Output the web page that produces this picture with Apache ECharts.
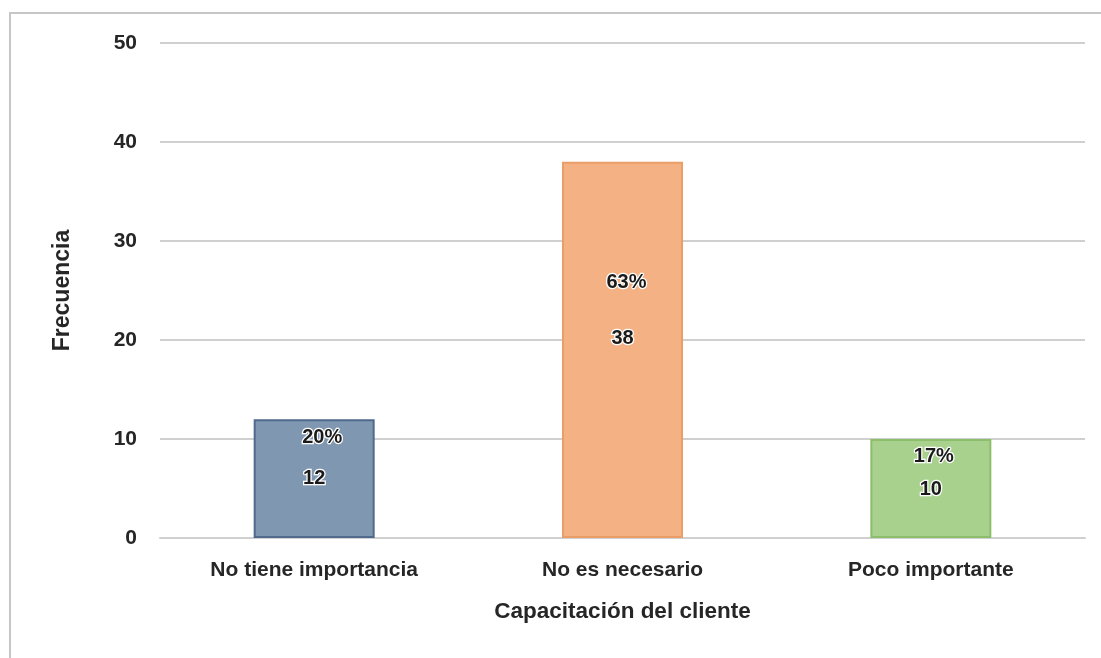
<!DOCTYPE html>
<html>
<head>
<meta charset="utf-8">
<script src="https://cdn.jsdelivr.net/npm/echarts@6/dist/echarts.min.js"></script>
<style>
  html, body { margin: 0; padding: 0; background: #ffffff; }
  #chart { width: 1101px; height: 658px; }
</style>
</head>
<body>
<div id="chart"></div>
<script>
// Capacitación del cliente: frequency of answers per category
const categories = ['No tiene importancia', 'No es necesario', 'Poco importante'];
const frecuencias = [12, 38, 10];
const yTicks = [0, 10, 20, 30, 40, 50];

const barColors = ['#8097b2', '#f4b183', '#a8d18d'];
const barBorders = ['#4f6a8d', '#eb9d68', '#8cbe6c'];
// offsets of the percentage labels measured from the top of each bar (px)
const pctOffsets = [[8, 3], [4, 106], [3, 2]];
// offsets of the count labels from each bar's centre (px)
const valOffsets = [[0, 0], [0, -11], [0, 1]];

const total = frecuencias.reduce((a, b) => a + b, 0);
const FONT = "'Liberation Sans', Arial, sans-serif";

const labelText = {
  color: '#1a1a1a',
  fontFamily: FONT,
  fontWeight: 'bold',
  fontSize: 20,
  textBorderColor: '#ffffff',
  textBorderWidth: 2.5
};

const chart = echarts.init(document.getElementById('chart'));
chart.setOption({
  animation: false,
  graphic: [{
    type: 'rect',
    shape: { x: 10, y: 13, width: 1200, height: 800 },
    style: { fill: 'none', stroke: '#c6c6c6', lineWidth: 2 },
    silent: true
  }],
  grid: { left: 160, right: 16, top: 43, bottom: 120 },
  xAxis: {
    type: 'category',
    data: categories,
    name: 'Capacitación del cliente',
    nameLocation: 'middle',
    nameGap: 62,
    nameTextStyle: { color: '#262626', fontFamily: FONT, fontWeight: 'bold', fontSize: 22.5 },
    axisLine: { show: true, lineStyle: { color: '#d0d0d0', width: 2 } },
    axisTick: { show: false },
    axisLabel: { color: '#262626', fontFamily: FONT, fontWeight: 'bold', fontSize: 21, margin: 22 }
  },
  yAxis: {
    type: 'value',
    min: yTicks[0],
    max: yTicks[yTicks.length - 1],
    interval: yTicks[1] - yTicks[0],
    name: 'Frecuencia',
    nameLocation: 'middle',
    nameGap: 86,
    nameRotate: 90,
    nameTextStyle: { color: '#262626', fontFamily: FONT, fontWeight: 'bold', fontSize: 23 },
    axisLine: { show: false },
    axisTick: { show: false },
    axisLabel: { color: '#262626', fontFamily: FONT, fontWeight: 'bold', fontSize: 21, margin: 23 },
    splitLine: { lineStyle: { color: '#d0d0d0', width: 2 } }
  },
  series: [
    {
      type: 'bar',
      barWidth: 121,
      data: frecuencias.map((v, i) => ({
        value: v,
        itemStyle: { color: barColors[i], borderColor: barBorders[i], borderWidth: 2 },
        label: { offset: valOffsets[i] }
      })),
      label: Object.assign({
        show: true,
        position: 'inside',
        formatter: p => String(p.value)
      }, labelText)
    },
    {
      type: 'bar',
      barWidth: 121,
      barGap: '-100%',
      silent: true,
      z: 3,
      data: frecuencias.map((v, i) => ({
        value: v,
        itemStyle: { color: 'rgba(0,0,0,0)' },
        label: { offset: pctOffsets[i] }
      })),
      label: Object.assign({
        show: true,
        position: 'insideTop',
        formatter: p => Math.round(p.value / total * 100) + '%'
      }, labelText)
    }
  ]
});
</script>
</body>
</html>
